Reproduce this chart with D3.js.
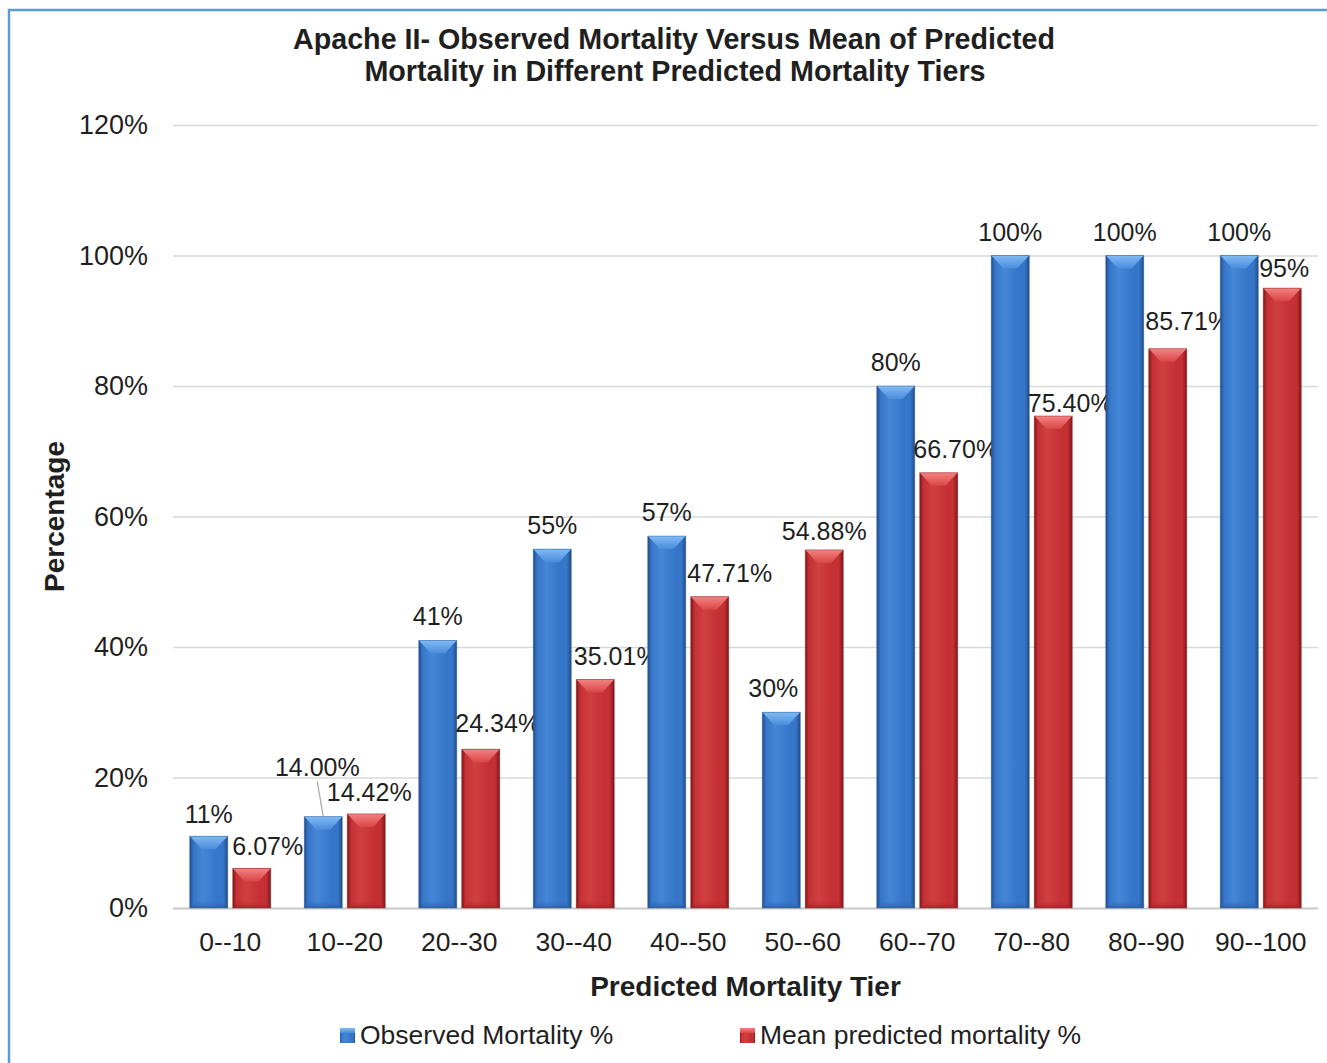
<!DOCTYPE html>
<html>
<head>
<meta charset="utf-8">
<script src="https://cdn.jsdelivr.net/npm/d3@7"></script>
<style>
  html, body { margin: 0; padding: 0; background: #fff; }
  svg { display: block; }
  text { font-family: "Liberation Sans", Arial, sans-serif; fill: #1f1f1f; }
</style>
</head>
<body>
<svg id="chart" width="1327" height="1063"></svg>
<script>
// Predicted mortality tiers and the two series per tier
const tiers = ["0--10", "10--20", "20--30", "30--40", "40--50", "50--60", "60--70", "70--80", "80--90", "90--100"];
const observed = [11, 14, 41, 55, 57, 30, 80, 100, 100, 100];
const predicted = [6.07, 14.42, 24.34, 35.01, 47.71, 54.88, 66.70, 75.40, 85.71, 95];
// decimals shown in each data label
const observedDecimals = [0, 2, 0, 0, 0, 0, 0, 0, 0, 0];
const predictedDecimals = [2, 2, 2, 2, 2, 2, 2, 2, 2, 0];
const yTicks = [0, 20, 40, 60, 80, 100, 120];
const seriesNames = ["Observed Mortality %", "Mean predicted mortality %"];

// hand-placed label nudges (px) relative to the default spot above each bar
const observedNudgeX = [0, -6, 0, 0, 0, -8, 0, 0, 0, 0];
const observedNudgeY = [2, -26, 0, 0, 0, 0, 0, 0, 0, 0];
const predictedNudgeX = [16, 3, 17, 21, 20, 0, 17, 17, 20, 2];
const predictedNudgeY = [2, 2, -2, 0, 0, 5, 0, 11, -4, 4];

const svg = d3.select("#chart");
const W = 1327, H = 1063;
const plot = { left: 173, right: 1318, top: 125, bottom: 908 };
const FONT = '"Liberation Sans", Arial, sans-serif';

// outer chart border (only top/left edges fall inside the view)
svg.append("path")
  .attr("d", `M9,${H + 5} L9,10 L${W + 5},10`)
  .attr("fill", "none").attr("stroke", "#5b9bd5").attr("stroke-width", 2.5);

const x0 = d3.scaleBand().domain(tiers).range([plot.left, plot.right]).padding(0);
const x1 = d3.scaleBand().domain(seriesNames).range([0, x0.bandwidth()])
  .paddingInner(0.116).paddingOuter(0.39);
const y = d3.scaleLinear().domain([0, 120]).range([plot.bottom, plot.top]);

// gradients for the bevelled bars
const defs = svg.append("defs");
const palettes = [
  { id: "blue", edge: "#214d8a", mid: "#3676c9", light: "#4587d6", top1: "#80bbf4", top2: "#4a8cdc", bot: "#2a5c9f" },
  { id: "red", edge: "#801719", mid: "#c53034", light: "#d0403f", top1: "#f48282", top2: "#d94646", bot: "#9c2326" }
];
palettes.forEach(p => {
  const g = defs.append("linearGradient").attr("id", "body-" + p.id)
    .attr("x1", 0).attr("x2", 1).attr("y1", 0).attr("y2", 0);
  [[0, p.edge], [0.1, p.mid], [0.35, p.light], [0.7, p.mid], [0.88, p.mid], [1, p.edge]]
    .forEach(([o, c]) => g.append("stop").attr("offset", o).attr("stop-color", c));
  const t = defs.append("linearGradient").attr("id", "top-" + p.id)
    .attr("x1", 0).attr("x2", 0).attr("y1", 0).attr("y2", 1);
  [[0, p.top1], [1, p.top2]].forEach(([o, c]) => t.append("stop").attr("offset", o).attr("stop-color", c));
  const b = defs.append("linearGradient").attr("id", "bot-" + p.id)
    .attr("x1", 0).attr("x2", 0).attr("y1", 0).attr("y2", 1);
  [[0, p.mid, 0], [1, p.bot, 0.8]].forEach(([o, c, a]) =>
    b.append("stop").attr("offset", o).attr("stop-color", c).attr("stop-opacity", a));
});

// gridlines
svg.append("g")
  .attr("transform", `translate(${plot.left},0)`)
  .call(d3.axisLeft(y).tickValues(yTicks).tickSize(-(plot.right - plot.left)).tickFormat(""))
  .call(g => g.select(".domain").remove())
  .call(g => g.selectAll(".tick line").attr("stroke", "#d9d9d9").attr("stroke-width", 1.5))
  .call(g => g.selectAll(".tick").filter(d => d === 0).select("line").attr("stroke", "#c8c8c8").attr("stroke-width", 2));

// y tick labels
svg.append("g")
  .attr("transform", `translate(148,0)`)
  .call(d3.axisLeft(y).tickValues(yTicks).tickSize(0).tickPadding(0).tickFormat(d => d + "%"))
  .call(g => g.select(".domain").remove())
  .call(g => g.selectAll("text").attr("font-size", 27).attr("fill", "#1f1f1f").style("font-family", FONT));

// category labels
svg.append("g")
  .attr("transform", `translate(0,${plot.bottom})`)
  .call(d3.axisBottom(x0).tickSize(0).tickPadding(24))
  .call(g => g.select(".domain").remove())
  .call(g => g.selectAll("text").attr("font-size", 26.5).attr("fill", "#1f1f1f").style("font-family", FONT));

// bars
const rows = tiers.map((t, i) => ({
  tier: t,
  vals: [
    { s: seriesNames[0], v: observed[i], dec: observedDecimals[i], nx: observedNudgeX[i], ny: observedNudgeY[i], pal: "blue" },
    { s: seriesNames[1], v: predicted[i], dec: predictedDecimals[i], nx: predictedNudgeX[i], ny: predictedNudgeY[i], pal: "red" }
  ]
}));

const groups = svg.append("g").selectAll("g").data(rows).join("g")
  .attr("transform", d => `translate(${x0(d.tier)},0)`);

const bars = groups.selectAll("g.bar").data(d => d.vals).join("g").attr("class", "bar");
bars.each(function (d) {
  const g = d3.select(this);
  const bx = x1(d.s), bw = x1.bandwidth();
  const top = y(d.v), base = y(0), bh = base - top;
  g.append("rect").attr("x", bx).attr("y", top).attr("width", bw).attr("height", bh)
    .attr("fill", `url(#body-${d.pal})`);
  // top bevel facet
  const bev = Math.min(13, bh / 2);
  g.append("path")
    .attr("d", `M${bx},${top} L${bx + bw},${top} L${bx + bw - 3},${top + 3} L${bx + bw - 12},${top + bev} L${bx + 12},${top + bev} L${bx + 3},${top + 3} Z`)
    .attr("fill", `url(#top-${d.pal})`);
  // faint bottom facet
  const bb = Math.min(8, bh / 3);
  g.append("path")
    .attr("d", `M${bx + 8},${base - bb} L${bx + bw - 8},${base - bb} L${bx + bw},${base} L${bx},${base} Z`)
    .attr("fill", `url(#bot-${d.pal})`);
  g.append("rect").attr("x", bx).attr("y", top).attr("width", bw).attr("height", bh)
    .attr("fill", "none").attr("stroke", d.pal === "blue" ? "#2c5f9e" : "#8e2226")
    .attr("stroke-width", 0.8).attr("stroke-opacity", 0.6);
});

// data labels
groups.each(function (row) {
  const g = d3.select(this);
  row.vals.forEach(d => {
    const cx = x1(d.s) + x1.bandwidth() / 2;
    const lx = cx + d.nx, ly = y(d.v) - 15 + d.ny;
    if (Math.abs(d.ny) > 15) {
      g.append("line")
        .attr("x1", lx).attr("y1", ly + 6)
        .attr("x2", cx).attr("y2", y(d.v))
        .attr("stroke", "#a6a6a6").attr("stroke-width", 1.2);
    }
    g.append("text").attr("x", lx).attr("y", ly).attr("text-anchor", "middle")
      .attr("font-size", 25).text(d.v.toFixed(d.dec) + "%");
  });
});

// title
const title = svg.append("text").attr("text-anchor", "middle").attr("font-size", 28.7).attr("font-weight", "bold");
title.append("tspan").attr("x", 674).attr("y", 49).text("Apache II- Observed Mortality Versus Mean of Predicted");
title.append("tspan").attr("x", 675).attr("y", 81).text("Mortality in Different Predicted Mortality Tiers");

// axis titles
svg.append("text").attr("transform", `translate(64,${(plot.top + plot.bottom) / 2}) rotate(-90)`)
  .attr("text-anchor", "middle").attr("font-size", 28).attr("font-weight", "bold").text("Percentage");
svg.append("text").attr("x", (plot.left + plot.right) / 2).attr("y", 996)
  .attr("text-anchor", "middle").attr("font-size", 28).attr("font-weight", "bold").text("Predicted Mortality Tier");

// legend
const legendPos = [340, 740];
const legend = svg.append("g").selectAll("g").data(seriesNames).join("g")
  .attr("transform", (d, i) => `translate(${legendPos[i]},1028)`);
legend.append("rect").attr("width", 15).attr("height", 15)
  .attr("fill", (d, i) => `url(#body-${palettes[i].id})`);
legend.append("rect").attr("width", 15).attr("height", 5)
  .attr("fill", (d, i) => `url(#top-${palettes[i].id})`);
legend.append("text").attr("x", 20).attr("y", 16).attr("font-size", 26.5).text(d => d);
</script>
</body>
</html>
